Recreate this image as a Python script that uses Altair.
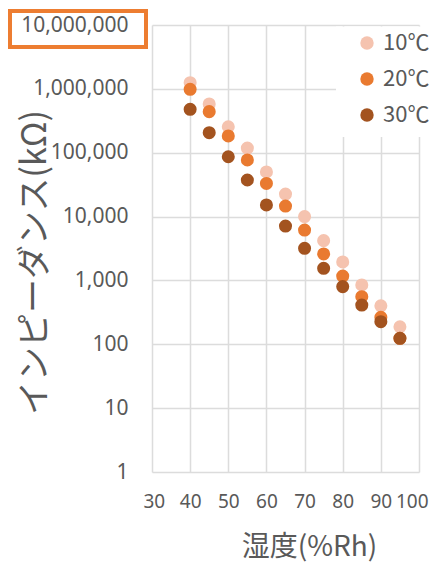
import altair as alt
import pandas as pd

humidity = [40, 45, 50, 55, 60, 65, 70, 75, 80, 85, 90, 95]
z_10c = [1250000, 580000, 255000, 118000, 50000, 22500, 10000, 4200, 1950, 850, 400, 188]
z_20c = [985000, 440000, 183000, 77000, 33000, 14600, 6150, 2600, 1170, 556, 264, 124]
z_30c = [478000, 206000, 86500, 37400, 15200, 7100, 3180, 1550, 800, 412, 226, 124]
series = ["10℃", "20℃", "30℃"]
colors = ["#F5C3AF", "#E97A30", "#A3531F"]
y_ticks = [1, 10, 100, 1000, 10000, 100000, 1000000, 10000000]
x_ticks = [30, 40, 50, 60, 70, 80, 90, 100]

rows = []
for name, vals in zip(series, [z_10c, z_20c, z_30c]):
    for h, v in zip(humidity, vals):
        rows.append({"humidity": h, "impedance": v, "series": name})
df = pd.DataFrame(rows)

W, H = 267, 447

points = alt.Chart(df).mark_circle(size=170, opacity=1).encode(
    x=alt.X("humidity:Q",
            scale=alt.Scale(domain=[30, 100], nice=False, zero=False),
            axis=alt.Axis(values=x_ticks, title="湿度(%Rh)", labelPadding=20,
                          labelOverlap=False, labelFlush=True, labelFlushOffset=9,
                          labelFontSize=19,
                          titleX=157, titleY=75, titleFontSize=28,
                          titleAlign="center", titleBaseline="middle")),
    y=alt.Y("impedance:Q",
            scale=alt.Scale(type="log", domain=[1, 10000000], nice=False),
            axis=alt.Axis(values=y_ticks, format=",", title="インピーダンス(kΩ)",
                          labelPadding=24, labelFontSize=21, labelOverlap=False,
                          titleX=-117, titleY=237,
                          titleFontSize=34, titleAngle=270,
                          titleAlign="center", titleBaseline="middle")),
    color=alt.Color("series:N",
                    scale=alt.Scale(domain=series, range=colors),
                    legend=alt.Legend(title=None, orient="none", legendX=204, legendY=7,
                                      symbolType="circle", symbolSize=180,
                                      labelFont="Noto Sans CJK JP", labelFontSize=22,
                                      labelColor="#595959", labelOffset=5,
                                      rowPadding=14, padding=0)),
)

legend_bg = alt.Chart(pd.DataFrame({"k": [0]})).mark_rect(fill="white", stroke=None).encode(
    x=alt.value(184), x2=alt.value(290), y=alt.value(1.5), y2=alt.value(112)
)

box = alt.Chart(pd.DataFrame({"k": [0]})).mark_rect(
    filled=False, stroke="#ED7D31", strokeWidth=4
).encode(
    x=alt.value(-142), x2=alt.value(-6), y=alt.value(-14), y2=alt.value(22)
)

chart = alt.layer(legend_bg, points, box).properties(
    width=W, height=H,
    autosize=alt.AutoSizeParams(type="none"),
    padding={"left": 144, "top": 17, "right": 10, "bottom": 91},
).configure_view(stroke=None).configure_axis(
    labelFont="Noto Sans", labelColor="#595959",
    titleFont="Noto Sans CJK JP", titleColor="#595959", titleFontWeight="normal",
    ticks=False, domain=False, grid=True, gridColor="#DCDCDC", gridWidth=1.5,
)

chart.save("out.html", embed_options={"renderer": "svg", "actions": False})
